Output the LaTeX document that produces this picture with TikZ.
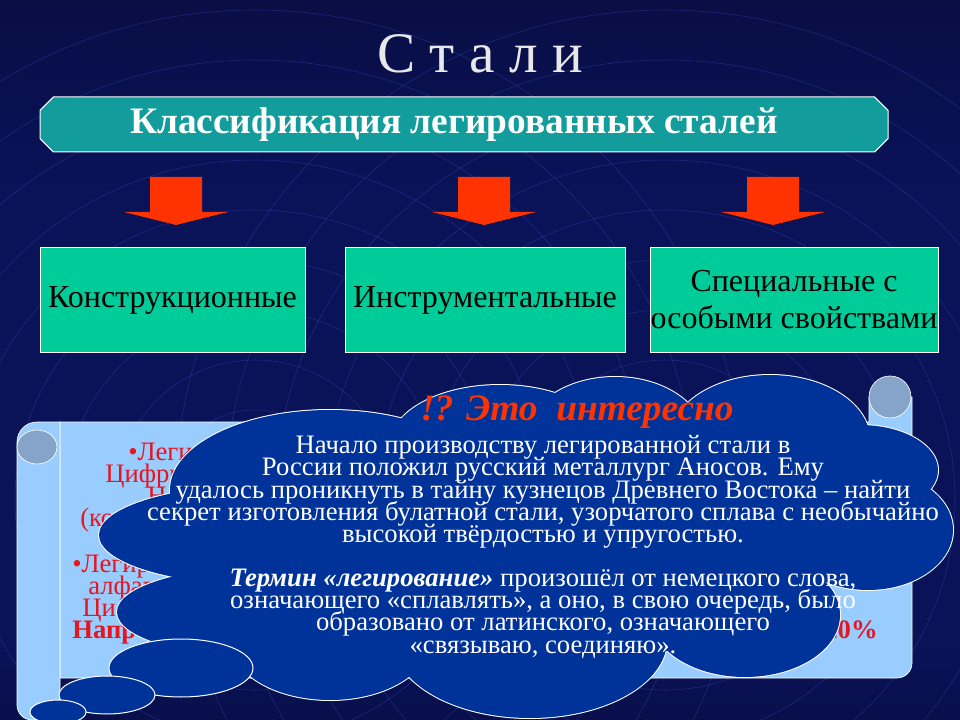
\documentclass[tikz,border=0pt]{standalone}
\usepackage{fontspec}
\setmainfont{Liberation Serif}
\usetikzlibrary{positioning,shapes.misc}
\setlength{\lineskiplimit}{-100pt}

\definecolor{bgtop}{HTML}{06061F}
\definecolor{bgmid}{HTML}{0A1258}
\definecolor{bgbot}{HTML}{000008}
\definecolor{ringblue}{HTML}{3346B0}
\definecolor{titlegray}{HTML}{E8E8E8}
\definecolor{ribbonteal}{HTML}{139C9C}
\definecolor{boxgreen}{HTML}{00CC99}
\definecolor{arrowred}{HTML}{FF3300}
\definecolor{scrollblue}{HTML}{99CCFF}
\definecolor{curlblue}{HTML}{86A3C9}
\definecolor{cloudblue}{HTML}{003399}
\definecolor{notered}{HTML}{E8141E}
\definecolor{funred}{HTML}{FF3300}

\pgfdeclareverticalshading{slidebg}{100bp}{color(0bp)=(bgbot); color(30bp)=(bgmid); color(62bp)=(bgmid); color(100bp)=(bgtop)}

\tikzset{
ring/.style={draw=ringblue, line width=0.4pt, opacity=0.5},
ribbon/.style={
  chamfered rectangle, chamfered rectangle xsep=5pt, chamfered rectangle ysep=5pt,
  draw=white, line width=0.75pt, fill=ribbonteal, text=white,
  minimum width=636pt, minimum height=41.25pt, inner sep=0pt,
  font=\bfseries\fontsize{28}{32}\selectfont},
downarrow/.pic={
  \fill[arrowred] (-26,-48) -- (26,-48) -- (26,-13) -- (52,-13) -- (0,0)
    -- (-52,-13) -- (-26,-13) -- cycle;},
catbox/.style={
  draw=white, line width=0.75pt, fill=boxgreen, minimum height=78pt,
  inner sep=0pt, align=center, font=\fontsize{24}{27.75}\selectfont},
scrollpart/.style={fill=scrollblue, draw=white, line width=0.5pt},
curl/.style={fill=curlblue, draw=white, line width=0.5pt},
notetext/.style={text=notered, anchor=base west, inner sep=0pt,
  font=\fontsize{20}{22}\selectfont},
cloudline/.style={draw=white, line width=1.5pt},
puff/.style={fill=cloudblue, draw=white, line width=0.75pt},
facttext/.style={anchor=base, align=center, text=white, inner sep=0pt,
  font=\fontsize{20}{16.6}\selectfont}
}

\begin{document}
\begin{tikzpicture}[x=0.75pt, y=-0.75pt]
\useasboundingbox (0,0) rectangle (960,720);
\shade[shading=slidebg] (0,0) rectangle (960,720);
\begin{scope}
  \clip (0,0) rectangle (960,720);
  \foreach \r in {90,140,...,490} {
    \draw[ring] (255,500) circle[radius=\r];
    \draw[ring] (665,500) circle[radius=\r];
  }
\end{scope}

\node[anchor=base, text=titlegray, font=\fontsize{43}{50}\selectfont] (title) at (480,73) {С т а л и};
\node[ribbon] (ribbon) at (464,124.5) {Классификация легированных сталей\hspace*{15pt}};

\pic (arrK) at (176,225) {downarrow};
\pic (arrI) at (484,225) {downarrow};
\pic (arrS) at (773,225) {downarrow};

\node[catbox, minimum width=198.75pt] (konstr) at (172.5,300) {Конструкционные};
\node[catbox, minimum width=210pt, right=29.25pt of konstr] (instr) {Инструментальные};
\node[catbox, minimum width=216pt, right=18pt of instr] (spec) {Специальные с\\особыми свойствами};

% scroll
\draw[scrollpart] (60,422) -- (869,422) -- (869,397) -- (912,397) -- (912,663)
  arc[start angle=0, end angle=90, radius=15] -- (60,678) -- cycle;
\draw[curl] (890,397) circle[radius=21];
\draw[scrollpart] (60,422) -- (37,422) arc[start angle=-90, end angle=-180, radius=20]
  -- (17,705) arc[start angle=180, end angle=90, radius=15] -- (60,720) -- cycle;
\draw[curl] (37,447) ellipse[x radius=20, y radius=17];

\node[notetext] (n1) at (128,460) {•Легир};
\node[notetext] (n2) at (105,482) {Цифры};
\node[notetext] (n3) at (147,504) {Н};
\node[notetext] (n4) at (80,526) {(ко};
\node[notetext] (n5) at (72,572) {•Легир};
\node[notetext] (n6) at (88,594) {алфав};
\node[notetext] (n7) at (82,616) {Циф};
\node[notetext, font=\bfseries\fontsize{20}{22}\selectfont] (n8) at (72,638) {Напр};
\node[notetext, anchor=base east, font=\bfseries\fontsize{20}{22}\selectfont] (n9) at (878,638) {20\%};

% cloud
\foreach \cx/\cy/\rx/\ry in {330/490/160/80, 262/535/163/50, 262/612/145/45,
    330/640/100/60, 500/445/110/60, 615/440/90/63, 770/440/100/65, 860/470/78/45,
    868/530/85/60, 745/615/95/62, 530/640/137/78, 560/540/280/120}
  \draw[cloudline] (\cx,\cy) ellipse[x radius=\rx, y radius=\ry];
\foreach \cx/\cy/\rx/\ry in {330/490/160/80, 262/535/163/50, 262/612/145/45,
    330/640/100/60, 500/445/110/60, 615/440/90/63, 770/440/100/65, 860/470/78/45,
    868/530/85/60, 745/615/95/62, 530/640/137/78, 560/540/280/120}
  \fill[cloudblue] (\cx,\cy) ellipse[x radius=\rx, y radius=\ry];
\draw[puff] (181,668) ellipse[x radius=72, y radius=29];
\draw[puff] (107,695) ellipse[x radius=48, y radius=19];
\draw[puff] (58,712) ellipse[x radius=28, y radius=12];

\node[anchor=base, text=funred, font=\bfseries\itshape\fontsize{28}{32}\selectfont] (fun) at (577,420) {!? Это\ \ интересно};
\node[facttext] (fact) at (543,653) {Начало производству легированной стали в\\
  России положил русский металлург Аносов. Ему\\
  удалось проникнуть в тайну кузнецов Древнего Востока – найти\\
  секрет изготовления булатной стали, узорчатого сплава с необычайно\\
  высокой твёрдостью и упругостью.\\[16.6pt]
  \textbf{\textit{Термин «легирование»}} произошёл от немецкого слова,\\
  означающего «сплавлять», а оно, в свою очередь, было\\
  образовано от латинского, означающего\\
  «связываю, соединяю».};

\end{tikzpicture}
\end{document}
